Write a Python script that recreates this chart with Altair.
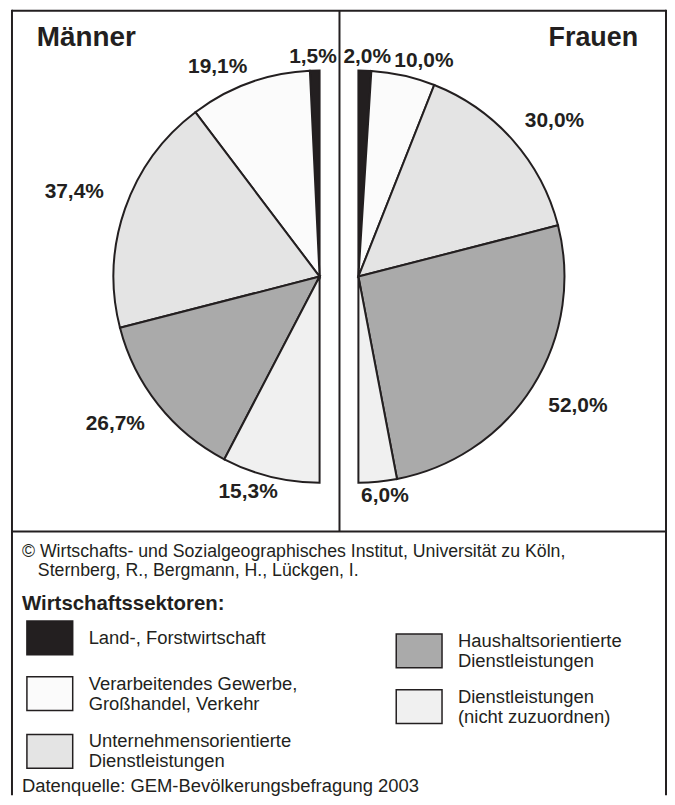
import math
import altair as alt
import pandas as pd

# ---------------- data ----------------
sectors = [
    "Land-, Forstwirtschaft",
    "Verarbeitendes Gewerbe,\nGroßhandel, Verkehr",
    "Unternehmensorientierte\nDienstleistungen",
    "Haushaltsorientierte\nDienstleistungen",
    "Dienstleistungen\n(nicht zuzuordnen)",
]
maenner = [1.5, 19.1, 37.4, 26.7, 15.3]
frauen = [2.0, 10.0, 30.0, 52.0, 6.0]
sector_fills = ["#231f20", "#fbfbfb", "#e4e4e4", "#aaaaaa", "#f0f0f0"]
panel_titles = ["Männer", "Frauen"]
credit_lines = [
    "© Wirtschafts- und Sozialgeographisches Institut, Universität zu Köln,",
    "Sternberg, R., Bergmann, H., Lückgen, I.",
]
legend_title = "Wirtschaftssektoren:"
source_line = "Datenquelle: GEM-Bevölkerungsbefragung 2003"

# ---------------- style ----------------
INK = "#231f20"
FONT = "Liberation Sans"
W, H = 662, 789
R = 207
CY = 268
CX_LEFT, CX_RIGHT = 313, 352


def pct(v):
    return f"{v:.1f}".replace(".", ",") + "%"


def table(vals):
    return pd.DataFrame({
        "sector": sectors,
        "value": vals,
        "idx": list(range(len(sectors))),
        "label": [pct(v) for v in vals],
    })


fill_enc = alt.Fill(
    "sector:N",
    scale=alt.Scale(domain=sectors, range=sector_fills),
    legend=None,
)


def pie(df, cx, rng, side):
    arc = alt.Chart(df).mark_arc(
        outerRadius=R, stroke=INK, strokeWidth=2, strokeJoin="miter"
    ).encode(
        theta=alt.Theta("value:Q", stack=True,
                        scale=alt.Scale(domain=[0, 100], range=rng)),
        order=alt.Order("idx:Q"),
        fill=fill_enc,
        x=alt.value(cx),
        y=alt.value(CY),
    )
    # label placed just outside the middle of its slice, text box kept clear
    txt = (
        alt.Chart(df)
        .transform_window(cum="sum(value)", sort=[alt.SortField("idx")])
        .transform_calculate(
            mid=f"{side} * (datum.cum - datum.value / 2) / 100 * PI",
        )
        .transform_calculate(ux="sin(datum.mid)", uy="-cos(datum.mid)",
                             hw="5.9 * length(datum.label)")
        .transform_calculate(rr=f"{R} + 5 + 20 * datum.ux * datum.ux")
        .transform_calculate(
            lx=f"{cx} + datum.rr * datum.ux + datum.hw * clamp(3 * datum.ux, -1, 1)",
            ly=f"{CY} + datum.rr * datum.uy + 9 * clamp(3 * datum.uy, -1, 1)",
        )
        .mark_text(font=FONT, fontWeight="bold", fontSize=21, color=INK,
                   baseline="middle", align="center")
        .encode(text="label:N",
                x=alt.X("lx:Q", scale=None),
                y=alt.Y("ly:Q", scale=None))
    )
    return alt.layer(arc, txt)


one = pd.DataFrame({"k": [0]})


def rule(x, x2, y, y2):
    return alt.Chart(one).mark_rule(color=INK, strokeWidth=2).encode(
        x=alt.value(x), x2=alt.value(x2), y=alt.value(y), y2=alt.value(y2))


def text(s, x, y, size, weight="normal", align="left"):
    return alt.Chart(pd.DataFrame({"t": [s]})).mark_text(
        font=FONT, fontSize=size, fontWeight=weight, color=INK,
        align=align, baseline="alphabetic",
    ).encode(text="t:N", x=alt.value(x), y=alt.value(y))


frame = [
    rule(4, 4, 0, H),          # left border
    rule(661, 661, 0, H),      # right border
    rule(4, 661, 1, 1),        # top border
    rule(333, 333, 1, 524),    # divider between panels
    rule(4, 661, 524, 524),    # divider above notes
]

left_pie = pie(table(maenner), CX_LEFT, [2 * math.pi, math.pi], -1)
right_pie = pie(table(frauen), CX_RIGHT, [0, math.pi], 1)

# ---------------- legend (two columns, drawn with the shared fill scale) ----
legend_base = (
    alt.Chart(pd.DataFrame({"sector": sectors,
                            "idx": list(range(len(sectors)))}))
    .transform_calculate(col="datum.idx <= 2 ? 0 : 1")
    .transform_calculate(row="datum.col == 0 ? datum.idx : datum.idx - 3")
    .transform_calculate(
        bx="19 + datum.col * 371",
        by="614 + datum.col * 13 + datum.row * 56 + (datum.row >= 2 ? 2 : 0)",
        nl="length(split(datum.sector, '\\n'))",
    )
    .transform_calculate(
        bx2="datum.bx + 46",
        by2="datum.by + 34",
        tx="datum.bx + 62",
        ty="datum.by + 17 - (datum.nl - 1) * 10",
    )
)
legend_boxes = legend_base.mark_rect(stroke=INK, strokeWidth=1.5).encode(
    x=alt.X("bx:Q", scale=None), x2="bx2:Q",
    y=alt.Y("by:Q", scale=None), y2="by2:Q",
    fill=fill_enc,
)
legend_labels = legend_base.mark_text(
    font=FONT, fontSize=18.5, color=INK, align="left", baseline="middle",
    lineBreak="\n", lineHeight=20,
).encode(
    x=alt.X("tx:Q", scale=None), y=alt.Y("ty:Q", scale=None),
    text="sector:N",
)

texts = [
    text(panel_titles[0], 29, 36, 28, "bold"),
    text(panel_titles[1], 633, 36, 27, "bold", "right"),
    text(credit_lines[0], 14, 550, 17.8),
    text(credit_lines[1], 30, 569, 17.8),
    text(legend_title, 14, 603, 20.5, "bold"),
    text(source_line, 14, 786, 18.5),
]

chart = (
    alt.layer(*frame, left_pie, right_pie, legend_boxes, legend_labels, *texts)
    .resolve_scale(theta="independent")
    .properties(width=W, height=H, autosize="none", padding=0)
    .configure_view(stroke=None)
)

chart.save("out.html", embed_options={"renderer": "svg", "actions": False})
